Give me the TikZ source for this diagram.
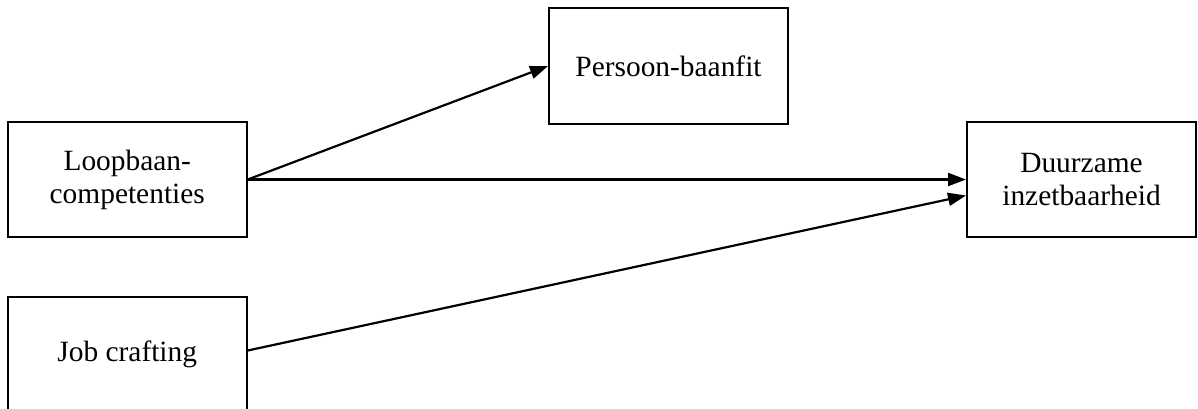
\documentclass[tikz,border=0pt]{standalone}
\usepackage{fontspec}
\setmainfont{Liberation Serif}
\usetikzlibrary{arrows.meta}
\begin{document}
\begin{tikzpicture}[x=1pt,y=1pt,
  box/.style={draw=black, line width=2pt, minimum width=239pt, minimum height=115pt,
    inner sep=0pt, align=center, font=\fontsize{29.4}{33}\selectfont},
  conn/.style={line width=2.2pt, -{Triangle[length=18pt,width=13pt]}}]
\useasboundingbox (0,0) rectangle (1198,408);
\node[box] (loop) at (127.25,228.5) {Loopbaan-\\competenties};
\node[box] (per) at (668.5,342) {Persoon-baanfit};
\node[box, minimum width=229pt] (dur) at (1081.5,228.5) {Duurzame\\inzetbaarheid};
\node[box] (job) at (127.25,53.5) {Job crafting};
\draw[conn] (loop.east) -- (per.west);
\draw[conn] (loop.east) -- (dur.west);
\draw[conn] ([yshift=4pt]job.east) -- ([yshift=-16pt]dur.west);
\end{tikzpicture}
\end{document}
